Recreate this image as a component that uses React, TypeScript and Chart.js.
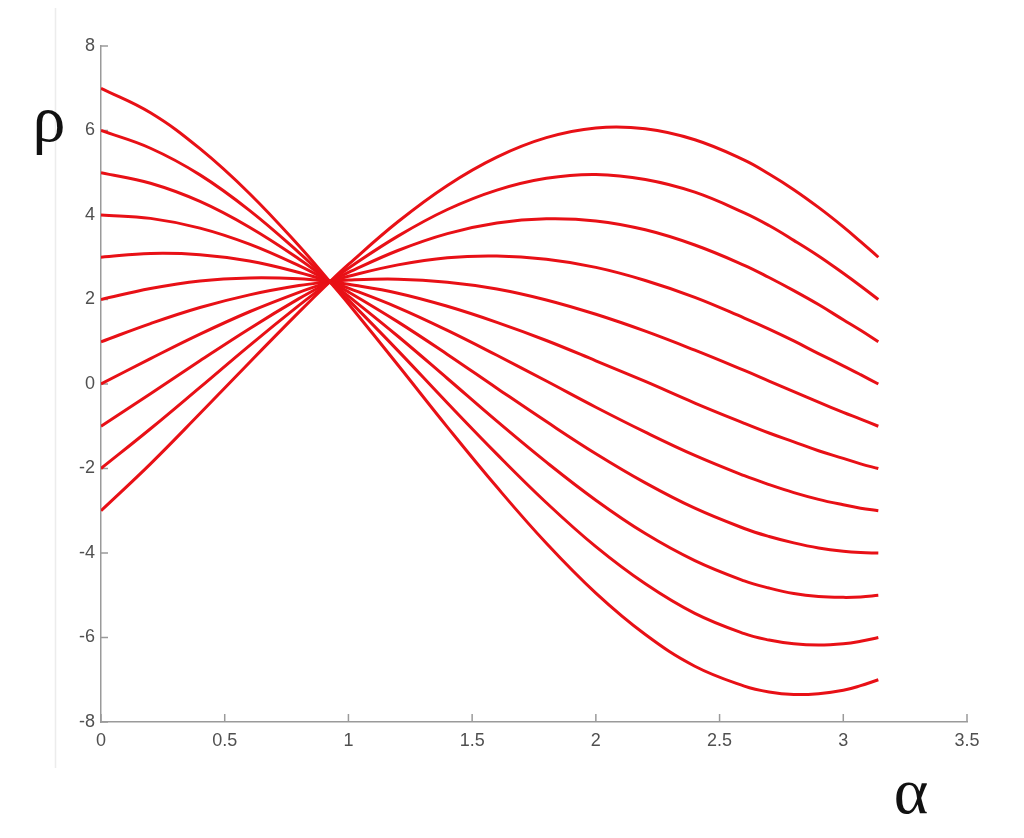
import React, { useEffect, useRef } from "react";
import { Chart, registerables } from "chart.js";

Chart.register(...registerables);

// α sample positions (radians)
const alpha = [0, 0.2, 0.4, 0.6, 0.8, 0.925, 1.0, 1.2, 1.4, 1.6, 1.8, 2.0, 2.2, 2.4, 2.6, 2.7, 2.8, 2.9, 3.0, 3.07, 3.1416];

// ρ values of each curve, named by its value at α = 0
const rho7 = [7, 6.42, 5.57, 4.51, 3.27, 2.42, 1.9, 0.45, -1.02, -2.44, -3.77, -4.95, -5.93, -6.68, -7.15, -7.29, -7.35, -7.33, -7.25, -7.14, -7];
const rho6 = [6, 5.58, 4.95, 4.11, 3.11, 2.42, 1.99, 0.79, -0.45, -1.66, -2.81, -3.85, -4.73, -5.43, -5.91, -6.06, -6.15, -6.18, -6.15, -6.09, -6];
const rho5 = [5, 4.75, 4.32, 3.71, 2.96, 2.42, 2.08, 1.13, 0.13, -0.88, -1.85, -2.75, -3.54, -4.18, -4.66, -4.83, -4.96, -5.03, -5.05, -5.04, -5];
const rho4 = [4, 3.92, 3.69, 3.31, 2.8, 2.42, 2.18, 1.47, 0.7, -0.1, -0.89, -1.65, -2.34, -2.94, -3.42, -3.61, -3.76, -3.88, -3.96, -3.99, -4];
const rho3 = [3, 3.09, 3.06, 2.91, 2.64, 2.42, 2.27, 1.81, 1.27, 0.68, 0.07, -0.55, -1.14, -1.69, -2.17, -2.38, -2.57, -2.73, -2.86, -2.94, -3];
const rho2 = [2, 2.26, 2.44, 2.51, 2.49, 2.42, 2.36, 2.15, 1.84, 1.46, 1.03, 0.55, 0.06, -0.45, -0.93, -1.16, -1.37, -1.58, -1.76, -1.89, -2];
const rho1 = [1, 1.43, 1.81, 2.11, 2.33, 2.42, 2.46, 2.48, 2.41, 2.25, 1.99, 1.65, 1.25, 0.8, 0.32, 0.07, -0.18, -0.43, -0.67, -0.83, -1];
const rho0 = [0, 0.6, 1.18, 1.71, 2.17, 2.42, 2.55, 2.82, 2.99, 3.03, 2.95, 2.76, 2.45, 2.05, 1.56, 1.3, 1.02, 0.72, 0.43, 0.22, 0];
const rhoM1 = [-1, -0.23, 0.55, 1.31, 2.02, 2.42, 2.64, 3.16, 3.56, 3.81, 3.91, 3.86, 3.65, 3.29, 2.81, 2.52, 2.21, 1.88, 1.52, 1.27, 1];
const rhoM2 = [-2, -1.06, -0.08, 0.91, 1.86, 2.42, 2.74, 3.5, 4.13, 4.59, 4.87, 4.96, 4.84, 4.54, 4.05, 3.75, 3.4, 3.03, 2.62, 2.32, 2];
const rhoM3 = [-3, -1.89, -0.7, 0.51, 1.7, 2.42, 2.83, 3.84, 4.7, 5.37, 5.83, 6.06, 6.04, 5.78, 5.3, 4.97, 4.6, 4.18, 3.72, 3.37, 3];

const curves = [rho7, rho6, rho5, rho4, rho3, rho2, rho1, rho0, rhoM1, rhoM2, rhoM3];

const xTickStep = 0.5;
const yTickStep = 2;
const xLabel = "α";
const yLabel = "ρ";

const AXIS_COLOR = "#9a9a9a";
const TICK_TEXT = "#505050";
const LINE_COLOR = "rgb(232, 16, 22)";
const TICK_FONT = { family: '"Liberation Sans", Arial, sans-serif', size: 18 };

export default function App() {
  const canvasRef = useRef<HTMLCanvasElement | null>(null);

  useEffect(() => {
    const canvas = canvasRef.current;
    if (!canvas) return;

    const inwardTicks = {
      id: "inwardTicks",
      beforeDatasetsDraw(chart: any) {
        const { ctx, chartArea, scales } = chart;
        ctx.save();
        ctx.strokeStyle = AXIS_COLOR;
        ctx.lineWidth = 1.5;
        scales.x.ticks.forEach((t: any) => {
          const px = scales.x.getPixelForValue(t.value);
          ctx.beginPath();
          ctx.moveTo(px, chartArea.bottom);
          ctx.lineTo(px, chartArea.bottom - 8);
          ctx.stroke();
        });
        scales.y.ticks.forEach((t: any) => {
          const py = scales.y.getPixelForValue(t.value);
          ctx.beginPath();
          ctx.moveTo(chartArea.left, py);
          ctx.lineTo(chartArea.left + 7, py);
          ctx.stroke();
        });
        ctx.restore();
      },
    };

    const labels = {
      id: "bigLabels",
      afterDraw(chart: any) {
        const { ctx } = chart;
        ctx.save();
        // faint scan edge line
        ctx.strokeStyle = "#ececec";
        ctx.lineWidth = 1.5;
        ctx.beginPath();
        ctx.moveTo(47.5, 0);
        ctx.lineTo(47.5, 760);
        ctx.stroke();
        ctx.fillStyle = "#111";
        ctx.font = '66px "Liberation Serif", "Times New Roman", serif';
        ctx.textAlign = "center";
        ctx.textBaseline = "alphabetic";
        ctx.fillText(yLabel, 41, 133);
        ctx.fillText(xLabel, 903, 805);
        ctx.restore();
      },
    };

    const chart = new Chart(canvas, {
      type: "line",
      data: {
        datasets: curves.map((vals, i) => ({
          label: "curve " + i,
          data: alpha.map((a, j) => ({ x: a, y: vals[j] })),
          borderColor: LINE_COLOR,
          borderWidth: 3,
          pointRadius: 0,
          tension: 0.4,
          fill: false,
        })),
      },
      options: {
        animation: false,
        responsive: false,
        maintainAspectRatio: false,
        layout: { padding: { left: 63, top: 38, right: 49, bottom: 76 } },
        plugins: { legend: { display: false }, tooltip: { enabled: false } },
        scales: {
          x: {
            type: "linear",
            min: 0,
            max: 3.5,
            ticks: {
              stepSize: xTickStep,
              color: TICK_TEXT,
              font: TICK_FONT,
              padding: 8,
              maxRotation: 0,
              callback: (v: any) => String(v),
            },
            grid: { drawOnChartArea: false, drawTicks: false },
            border: { color: AXIS_COLOR, width: 1.5 },
            afterFit: (s: any) => {
              s.height = 30;
            },
          },
          y: {
            type: "linear",
            min: -8,
            max: 8,
            ticks: {
              stepSize: yTickStep,
              color: TICK_TEXT,
              font: TICK_FONT,
              padding: 6,
              callback: (v: any) => String(v),
            },
            grid: { drawOnChartArea: false, drawTicks: false },
            border: { color: AXIS_COLOR, width: 1.5 },
            afterFit: (s: any) => {
              s.width = 30;
            },
          },
        },
      },
      plugins: [inwardTicks, labels],
    });

    return () => chart.destroy();
  }, []);

  return (
    <div style={{ width: 1008, height: 820 }}>
      <canvas ref={canvasRef} width={1008} height={820} style={{ display: "block" }} />
    </div>
  );
}
